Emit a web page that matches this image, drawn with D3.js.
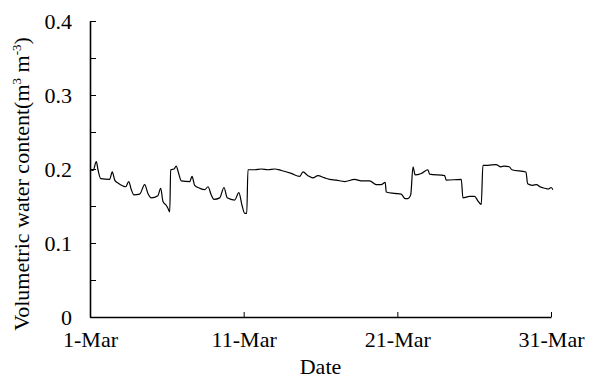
<!DOCTYPE html>
<html>
<head>
<meta charset="utf-8"/>
<script src="https://d3js.org/d3.v7.min.js"></script>
<style type="text/css">
body { margin: 0; background: #fff; }
.line { fill: none; stroke: #000; stroke-width: 1.2; }
.domain { stroke: #000; stroke-width: 1.6; }
.tick line { stroke: #000; stroke-width: 1; }
</style>
</head>
<body>
<script>
// chart size
var width = 597,
    height = 380,
    margin = {top: 21, right: 46, bottom: 63, left: 90},
    serif = "'Liberation Serif', 'Times New Roman', Times, serif",
    fontSize = "22px";

// days since 1-Mar 00:00 and volumetric water content
var days = [0.00, 0.20, 0.41, 0.52, 0.70, 1.28, 1.45, 1.61, 1.82, 2.15, 2.32, 2.52, 2.69, 2.86,
            3.23, 3.56, 3.77, 3.99, 4.42, 4.60, 4.75, 4.96, 5.07, 5.19, 5.25, 5.47, 5.61, 5.77,
            5.94, 6.49, 6.64, 6.81, 7.14, 7.46, 7.68, 7.89, 8.07, 8.44, 8.72, 8.93, 9.41, 9.69,
            9.89, 10.07, 10.20, 10.28, 10.72, 11.15, 11.58, 12.02, 12.45, 13.10, 13.64, 13.86,
            14.18, 14.51, 14.83, 15.27, 15.60, 16.02, 16.57, 17.22, 17.65, 18.20, 18.63, 18.95,
            19.21, 19.28, 19.82, 20.25, 20.51, 20.69, 20.87, 21.02, 21.16, 21.56, 21.99, 22.10,
            23.08, 23.18, 24.16, 24.27, 24.70, 25.03, 25.24, 25.46, 25.57, 25.89, 26.42, 26.74,
            26.96, 27.28, 27.46, 28.37, 28.48, 28.80, 29.06, 29.28, 29.60, 29.82, 30.02, 30.12];

var vwc = [0.199, 0.198, 0.210, 0.199, 0.187, 0.186, 0.196, 0.185, 0.181, 0.177, 0.176, 0.183, 0.172, 0.165,
           0.166, 0.179, 0.167, 0.161, 0.164, 0.174, 0.156, 0.151, 0.147, 0.142, 0.199, 0.200, 0.204, 0.194,
           0.184, 0.183, 0.190, 0.178, 0.174, 0.172, 0.176, 0.165, 0.159, 0.161, 0.175, 0.161, 0.158, 0.168,
           0.151, 0.140, 0.140, 0.199, 0.199, 0.200, 0.199, 0.200, 0.198, 0.194, 0.190, 0.196,
           0.191, 0.188, 0.191, 0.188, 0.186, 0.185, 0.183, 0.186, 0.184, 0.184, 0.179, 0.179,
           0.182, 0.169, 0.167, 0.166, 0.160, 0.160, 0.165, 0.203, 0.192, 0.194, 0.199, 0.193,
           0.191, 0.185, 0.186, 0.161, 0.163, 0.163, 0.157, 0.152, 0.205, 0.205, 0.206, 0.203,
           0.204, 0.203, 0.199, 0.196, 0.180, 0.178, 0.179, 0.176, 0.174, 0.173, 0.175, 0.172];

var xTickLabels = ["1-Mar", "11-Mar", "21-Mar", "31-Mar"];
var yTickLabels = [0, 0.1, 0.2, 0.3, 0.4];

var start = new Date(2013, 2, 1);
var dayMs = 86400000;
var data = days.map(function(d, i) {
    return {date: new Date(start.getTime() + d * dayMs), value: vwc[i]};
});

var x = d3.scaleTime()
          .domain([start, new Date(start.getTime() + 30 * dayMs)])
          .range([margin.left, width - margin.right]);

var y = d3.scaleLinear()
          .domain([0, 0.4])
          .range([height - margin.bottom, margin.top]);

var svg = d3.select("body")
            .append("svg")
            .attr("width", width)
            .attr("height", height)
            .attr("font-family", serif);

// x axis, ticks every 10 days pointing up
var xTicks = xTickLabels.map(function(d, i) { return new Date(start.getTime() + i * 10 * dayMs); });
var xAxis = svg.append("g")
   .attr("transform", "translate(0," + (height - margin.bottom) + ")")
   .call(d3.axisBottom(x)
           .tickValues(xTicks)
           .tickSize(-5)
           .tickSizeOuter(0)
           .tickPadding(14)
           .tickFormat(function(d, i) { return xTickLabels[i]; }));

// y axis, minor ticks every 0.05, labels every 0.1
var yAxis = svg.append("g")
   .attr("transform", "translate(" + margin.left + ",0)")
   .call(d3.axisLeft(y)
           .ticks(8)
           .tickSize(-6)
           .tickSizeOuter(0)
           .tickPadding(18)
           .tickFormat(function(d) {
               var r = Math.round(d * 100) / 100;
               return yTickLabels.indexOf(r) >= 0 ? d3.format("")(r) : "";
           }));

svg.selectAll("g").attr("font-family", serif);
svg.selectAll(".tick text").style("font-family", serif).style("font-size", fontSize).attr("fill", "#000");

// the series
var line = d3.line()
             .x(function(d) { return x(d.date); })
             .y(function(d) { return y(d.value); })
             .curve(d3.curveMonotoneX);

svg.append("path")
   .datum(data)
   .attr("class", "line")
   .attr("d", line);

// axis titles
svg.append("text")
   .attr("x", (margin.left + width - margin.right) / 2)
   .attr("y", 374)
   .attr("text-anchor", "middle")
   .style("font-family", serif)
   .style("font-size", fontSize)
   .text("Date");

var yTitle = svg.append("text")
   .attr("transform", "translate(29,184) rotate(-90)")
   .attr("text-anchor", "middle")
   .style("font-family", serif)
   .style("font-size", fontSize);
yTitle.append("tspan").text("Volumetric water content(m");
yTitle.append("tspan").attr("dy", -8).style("font-size", "13px").text("3");
yTitle.append("tspan").attr("dy", 8).text(" m");
yTitle.append("tspan").attr("dy", -8).style("font-size", "13px").text("-3");
yTitle.append("tspan").attr("dy", 8).text(")");
</script>
</body>
</html>
